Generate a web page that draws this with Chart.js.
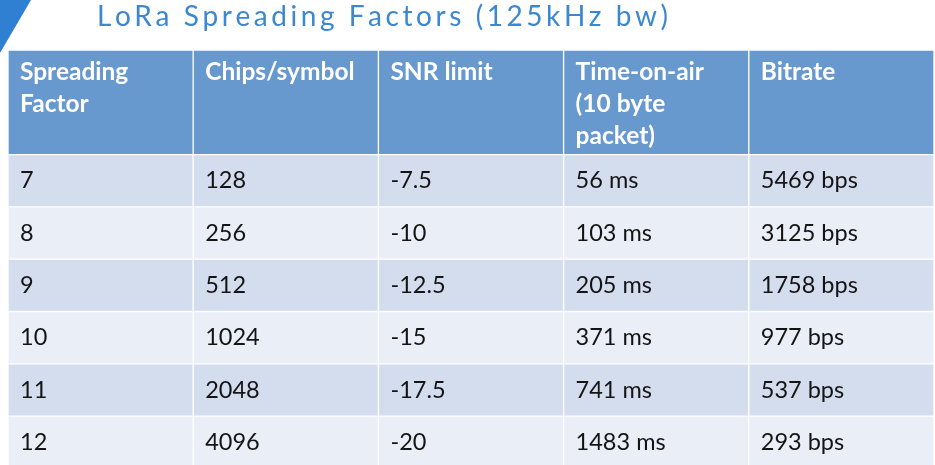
<!DOCTYPE html>
<html>
<head>
<meta charset="utf-8">
<script src="https://cdn.jsdelivr.net/npm/chart.js@4.4.1/dist/chart.umd.min.js"></script>
<style>
html,body{margin:0;padding:0;background:#fff;}
#wrap{width:935px;height:465px;position:relative;}
</style>
</head>
<body>
<div id="wrap"><canvas id="c"></canvas></div>
<script>
// ---- data ----
const columnHeaders = ['Spreading\nFactor', 'Chips/symbol', 'SNR limit', 'Time-on-air\n(10 byte\npacket)', 'Bitrate'];
const spreadingFactor = [7, 8, 9, 10, 11, 12];
const chipsPerSymbol = [128, 256, 512, 1024, 2048, 4096];
const snrLimit = [-7.5, -10, -12.5, -15, -17.5, -20];
const timeOnAirMs = [56, 103, 205, 371, 741, 1483];
const bitrateBps = [5469, 3125, 1758, 977, 537, 293];
const titleText = 'LoRa Spreading Factors (125kHz bw)';

// ---- layout / style ----
const HEADER_UNITS = 2.0;
const ROW_UNITS = 1.0;
const VISIBLE_UNITS = 7.935;
const HEADER_BG = '#6799cf';
const ROW_BG = ['#d3ddee', '#e9eef7'];
const FONT = 'Lato, "Open Sans", sans-serif';

const rowTexts = spreadingFactor.map((sf, i) => [
  String(sf),
  String(chipsPerSymbol[i]),
  String(snrLimit[i]),
  timeOnAirMs[i] + ' ms',
  bitrateBps[i] + ' bps'
]);

const datasets = [{
  label: 'header',
  data: columnHeaders.map(() => HEADER_UNITS),
  texts: columnHeaders,
  isHeader: true,
  backgroundColor: HEADER_BG
}].concat(rowTexts.map((txt, i) => ({
  label: 'SF' + spreadingFactor[i],
  data: txt.map(() => ROW_UNITS),
  texts: txt,
  isHeader: false,
  backgroundColor: ROW_BG[i % 2]
})));
datasets.forEach(d => {
  d.borderColor = '#ffffff';
  d.borderWidth = 1;
  d.borderSkipped = false;
  d.categoryPercentage = 1;
  d.barPercentage = 1;
});

const cellText = {
  id: 'cellText',
  afterDatasetsDraw(chart) {
    const ctx = chart.ctx;
    ctx.save();
    chart.data.datasets.forEach((ds, di) => {
      const meta = chart.getDatasetMeta(di);
      meta.data.forEach((el, j) => {
        const left = el.x - el.width / 2 + 12;
        const top = Math.min(el.y, el.base);
        const bottom = Math.max(el.y, el.base);
        const txt = ds.texts[j];
        if (ds.isHeader) {
          ctx.fillStyle = '#ffffff';
          ctx.font = 'bold 24.5px ' + FONT;
          ctx.textBaseline = 'alphabetic';
          txt.split('\n').forEach((line, k) => {
            ctx.fillText(line, left, top + 30 + k * 32);
          });
        } else {
          ctx.fillStyle = '#141414';
          ctx.font = '23.5px ' + FONT;
          ctx.textBaseline = 'middle';
          ctx.fillText(txt, left, (top + bottom) / 2);
        }
      });
    });
    ctx.restore();
  }
};

const decor = {
  id: 'decor',
  beforeDraw(chart) {
    const ctx = chart.ctx;
    ctx.save();
    // corner triangle
    ctx.fillStyle = '#2f7fd2';
    ctx.beginPath();
    ctx.moveTo(0, 0);
    ctx.lineTo(31, 0);
    ctx.lineTo(0, 53);
    ctx.closePath();
    ctx.fill();
    // title with letter spacing
    ctx.font = '28px ' + FONT;
    ctx.fillStyle = '#3b87d0';
    ctx.textBaseline = 'alphabetic';
    const chars = titleText.split('');
    const widths = chars.map(c => ctx.measureText(c).width);
    const total = widths.reduce((a, b) => a + b, 0);
    const target = 571;
    const sp = (target - total) / (chars.length - 1);
    let x = 97;
    chars.forEach((c, i) => {
      ctx.fillText(c, x, 26);
      x += widths[i] + sp;
    });
    ctx.restore();
  }
};

new Chart(document.getElementById('c'), {
  type: 'bar',
  data: { labels: columnHeaders.map((h, i) => 'col' + i), datasets },
  options: {
    responsive: true,
    maintainAspectRatio: false,
    animation: false,
    layout: { padding: { left: 8, right: 1, top: 50, bottom: 0 } },
    plugins: { legend: { display: false }, tooltip: { enabled: false }, title: { display: false } },
    scales: {
      x: { stacked: true, display: false, offset: true },
      y: { stacked: true, display: false, reverse: true, min: 0, max: VISIBLE_UNITS }
    }
  },
  plugins: [decor, cellText]
});
</script>
</body>
</html>
